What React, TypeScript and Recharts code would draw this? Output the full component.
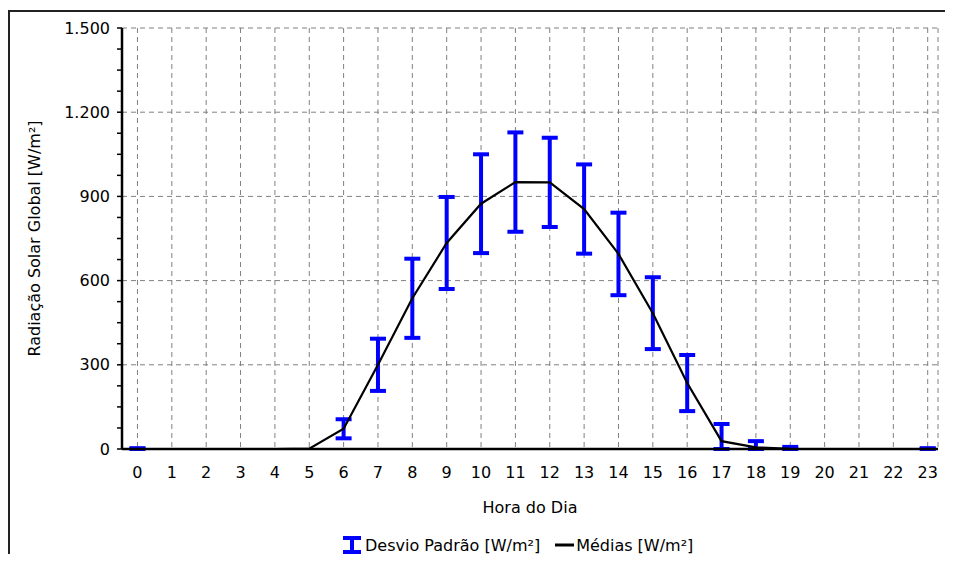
import React from 'react';
import { LineChart, Line, XAxis, YAxis, CartesianGrid, ErrorBar, Legend, Label } from 'recharts';

const horas = [0, 1, 2, 3, 4, 5, 6, 7, 8, 9, 10, 11, 12, 13, 14, 15, 16, 17, 18, 19, 20, 21, 22, 23];
const medias = [0, 0, 0, 0, 0, 1, 72, 300, 537, 734, 874, 951, 950, 855, 695, 484, 235, 28, 6, 0.5, 0, 0, 0, 0];
const desvios = [3, 0, 0, 0, 0, 0, 34, 93, 141, 164, 176, 177, 159, 159, 147, 128, 100, 61, 22, 7, 0, 0, 0, 3];
const yTicks = [0, 75, 150, 225, 300, 375, 450, 525, 600, 675, 750, 825, 900, 975, 1050, 1125, 1200, 1275, 1350, 1425, 1500];
const yLabelTicks = [0, 300, 600, 900, 1200, 1500];
const yMax = 1500;

const data = horas.map((h, i) => ({
  hora: h,
  media: medias[i],
  erro: desvios[i] > 0 ? [Math.min(desvios[i], medias[i]), desvios[i]] : null,
}));

const FONT = 'DejaVu Sans';

const fmt = (v: number) =>
  yLabelTicks.includes(v) ? String(v).replace(/\B(?=(\d{3})+(?!\d))/g, '.') : '';

const LegendContent = () => (
  <div style={{ display: 'flex', alignItems: 'center', fontFamily: FONT, fontSize: 16, color: '#000', whiteSpace: 'nowrap', height: 20 }}>
    <svg width={22} height={18} style={{ display: 'block' }}>
      <line x1={2} y1={2} x2={20} y2={2} stroke="#0000ff" strokeWidth={4} />
      <line x1={11} y1={2} x2={11} y2={16} stroke="#0000ff" strokeWidth={4} />
      <line x1={2} y1={16} x2={20} y2={16} stroke="#0000ff" strokeWidth={4} />
    </svg>
    <span style={{ marginLeft: 2 }}>Desvio Padrão [W/m²]</span>
    <svg width={19} height={18} style={{ display: 'block', marginLeft: 15 }}>
      <line x1={0} y1={9} x2={19} y2={9} stroke="#000" strokeWidth={3} />
    </svg>
    <span style={{ marginLeft: 2 }}>Médias [W/m²]</span>
  </div>
);

export default function App() {
  return (
    <div style={{ position: 'relative', width: 937, height: 546, overflow: 'hidden', background: '#fff' }}>
      <div style={{ position: 'absolute', left: 0, top: 2, width: 2000, height: 2000, borderLeft: '2px solid #222', borderTop: '2px solid #222' }} />
      <div style={{ position: 'absolute', left: 0, top: 0 }}>
        <LineChart width={937} height={546} data={data} margin={{ top: 20, right: 7, left: 0, bottom: 0 }}>
          <CartesianGrid
            stroke="#808080"
            strokeDasharray="5 4"
            horizontalCoordinatesGenerator={(props: any) => {
              const o = props?.offset;
              if (!o) return [];
              return yLabelTicks.map((v) => o.top + o.height * (1 - v / yMax));
            }}
          />
          <Line dataKey="media" stroke="none" dot={false} activeDot={false} legendType="none" isAnimationActive={false}>
            <ErrorBar dataKey="erro" width={8} strokeWidth={4} stroke="#0000ff" direction="y" isAnimationActive={false} />
          </Line>
          <Line dataKey="media" type="linear" stroke="#000" strokeWidth={2.2} dot={false} activeDot={false} isAnimationActive={false} />
          <XAxis
            dataKey="hora"
            type="number"
            domain={[-0.45, 23.3]}
            allowDataOverflow
            ticks={horas}
            interval={0}
            tickLine={false}
            tickSize={6}
            tickMargin={12}
            height={105}
            axisLine={{ stroke: '#000', strokeWidth: 2.5 }}
            tick={{ fill: '#000', fontSize: 16, fontFamily: FONT }}
          >
            <Label value="Hora do Dia" position="insideTop" offset={53} fill="#000" fontSize={16} fontFamily={FONT} />
          </XAxis>
          <XAxis
            xAxisId="top"
            orientation="top"
            dataKey="hora"
            type="number"
            domain={[-0.45, 23.3]}
            allowDataOverflow
            tick={false}
            tickLine={false}
            height={0}
            axisLine={{ stroke: '#333', strokeWidth: 1.5 }}
          />
          <YAxis
            type="number"
            domain={[0, yMax]}
            ticks={yTicks}
            interval={0}
            tickFormatter={fmt}
            tickSize={5}
            tickMargin={7}
            width={114}
            tickLine={{ stroke: '#000', strokeWidth: 1.5 }}
            axisLine={{ stroke: '#000', strokeWidth: 2.5 }}
            tick={{ fill: '#000', fontSize: 16, fontFamily: FONT }}
          >
            <Label
              value="Radiação Solar Global [W/m²]"
              angle={-90}
              position="insideLeft"
              offset={26}
              fill="#000"
              fontSize={16}
              fontFamily={FONT}
              style={{ textAnchor: 'middle' }}
            />
          </YAxis>
          <YAxis
            yAxisId="right"
            orientation="right"
            type="number"
            domain={[0, yMax]}
            tick={false}
            tickLine={false}
            width={0}
            axisLine={{ stroke: '#333', strokeWidth: 1.5 }}
          />
          <Legend
            verticalAlign="middle"
            align="center"
            layout="horizontal"
            wrapperStyle={{ top: 527, left: 333, width: 'auto', height: 20 }}
            content={() => <LegendContent />}
          />
        </LineChart>
      </div>
    </div>
  );
}
